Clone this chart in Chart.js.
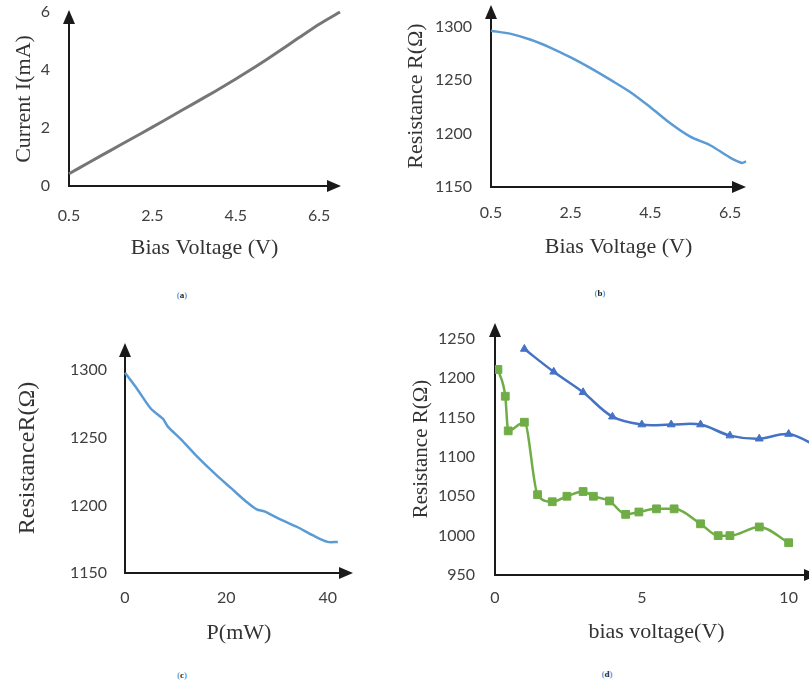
<!DOCTYPE html>
<html><head><meta charset="utf-8">
<script src="https://cdn.jsdelivr.net/npm/chart.js@4"></script>
<style>
html,body{margin:0;padding:0;background:#fff;overflow:hidden;width:809px;height:688px;position:relative}
canvas{position:absolute}
.cap{position:absolute;font:bold 9px "Liberation Serif",serif;color:#222;transform:translate(-50%,-50%);white-space:nowrap}
.cap span{color:#5b9bd5}
</style></head><body>
<canvas id="ca" width="400" height="300" style="left:0;top:0;width:400px;height:300px"></canvas>
<canvas id="cb" width="409" height="300" style="left:400px;top:0;width:409px;height:300px"></canvas>
<canvas id="cc" width="400" height="340" style="left:0;top:320px;width:400px;height:340px"></canvas>
<canvas id="cd" width="430" height="360" style="left:400px;top:300px;width:430px;height:360px"></canvas>
<div class="cap" style="left:182px;top:295px"><span>(</span>a<span>)</span></div>
<div class="cap" style="left:600px;top:293px"><span>(</span>b<span>)</span></div>
<div class="cap" style="left:182px;top:675px"><span>(</span>c<span>)</span></div>
<div class="cap" style="left:607px;top:674px"><span>(</span>d<span>)</span></div>
<script>
// ---- data ----
const aVoltage = [0.5,1,1.5,2,2.5,3,3.5,4,4.5,5,5.5,6,6.5,7];
const aCurrent = [0.42,0.83,1.23,1.63,2.03,2.44,2.85,3.26,3.69,4.14,4.61,5.10,5.58,6.0];
const aXTicks = [0.5,2.5,4.5,6.5];
const aYTicks = [0,2,4,6];

const bVoltage = [0.5,1,1.5,2,2.5,3,3.5,4,4.5,5,5.5,6,6.5,6.8,6.9];
const bResistance = [1296,1293,1287.5,1280,1271,1261,1250,1238.5,1224.5,1209.5,1197,1189,1177.5,1172.5,1174];
const bXTicks = [0.5,2.5,4.5,6.5];
const bYTicks = [1150,1200,1250,1300];

const cPower = [0,2.5,5,7,7.5,8.5,11,14,18,21,24,26,27.5,31,34,37,40,42];
const cResistance = [1298,1285.5,1272,1265.5,1264,1258,1249,1237,1222.5,1212.5,1202.5,1197,1195.5,1189,1184,1178,1173,1173];
const cXTicks = [0,20,40];
const cYTicks = [1150,1200,1250,1300];

const dBlueVoltage = [1,2,3,4,5,6,7,8,9,10,11];
const dBlueResistance = [1237,1208,1182,1151,1141,1141,1141,1127,1123,1129,1113];
const dGreenVoltage = [0.1,0.35,0.45,1.0,1.45,1.95,2.45,3.0,3.35,3.9,4.45,4.9,5.5,6.1,7.0,7.6,8.0,9.0,10.0];
const dGreenResistance = [1211,1177,1133,1144,1052,1043,1050,1056,1050,1044,1027,1030,1034,1034,1015,1000,1000,1011,991];
const dXTicks = [0,5,10];
const dYTicks = [950,1000,1050,1100,1150,1200,1250];

// ---- helpers ----
const pairs = (xs, ys) => xs.map((x, i) => ({x, y: ys[i]}));
const tickFont = {family: 'Lato', size: 16};
const tickColor = '#404040';
const titleColor = '#333333';

const axesPlugin = {
  id: 'axesArrows',
  beforeDatasetsDraw(chart) {
    const {ctx, chartArea: {left, top, right, bottom}} = chart;
    const o = chart.options.plugins.axesArrows || {};
    const ty = top - (o.topExt || 0), rx = right + (o.rightExt || 0);
    ctx.save();
    ctx.strokeStyle = '#1a1a1a'; ctx.fillStyle = '#1a1a1a'; ctx.lineWidth = 2;
    ctx.beginPath();
    ctx.moveTo(left, bottom + 1); ctx.lineTo(left, ty + 10);
    ctx.moveTo(left - 1, bottom); ctx.lineTo(rx - 10, bottom);
    ctx.stroke();
    ctx.beginPath(); ctx.moveTo(left, ty); ctx.lineTo(left - 6, ty + 14); ctx.lineTo(left + 6, ty + 14); ctx.closePath(); ctx.fill();
    ctx.beginPath(); ctx.moveTo(rx, bottom); ctx.lineTo(rx - 14, bottom - 6); ctx.lineTo(rx - 14, bottom + 6); ctx.closePath(); ctx.fill();
    ctx.restore();
  }
};

function scales(o) {
  return {
    x: {
      type: 'linear', min: o.xmin, max: o.xmax,
      grid: {display: false, drawTicks: false}, border: {display: false},
      ticks: {font: tickFont, color: tickColor, padding: o.xtp, maxRotation: 0, autoSkip: false, callback: v => String(v)},
      afterBuildTicks: s => { s.ticks = o.xticks.map(v => ({value: v})); },
      afterFit: s => { s.height = o.xh; s.paddingLeft = 0; s.paddingRight = 0; },
      title: {display: true, text: o.xtitle, color: titleColor,
              font: {family: 'Liberation Serif', size: o.xtsize || 22}, padding: {top: 0, bottom: o.xtpad}}
    },
    y: {
      type: 'linear', min: o.ymin, max: o.ymax,
      grid: {display: false, drawTicks: false}, border: {display: false},
      ticks: {font: tickFont, color: tickColor, padding: o.ytp, autoSkip: false, callback: v => String(v)},
      afterBuildTicks: s => { s.ticks = o.yticks.map(v => ({value: v})); },
      afterFit: s => { s.width = o.yw; s.paddingTop = 0; s.paddingBottom = 0; },
      title: {display: true, text: o.ytitle, color: titleColor,
              font: {family: 'Liberation Serif', size: o.ytsize || 22}, padding: {top: o.ytpad, bottom: 0}}
    }
  };
}

function common(padding, arrows, sc) {
  return {
    responsive: false, animation: false, devicePixelRatio: 1,
    layout: {padding},
    plugins: {legend: {display: false}, tooltip: {enabled: false}, axesArrows: arrows},
    scales: sc
  };
}

// (a)
new Chart(document.getElementById('ca'), {
  type: 'line',
  data: {datasets: [{data: pairs(aVoltage, aCurrent), borderColor: '#767676', borderWidth: 3,
    pointRadius: 0, tension: 0.2, clip: false}]},
  options: common({top: 12, right: 60, left: 0, bottom: 0}, {topExt: 2, rightExt: 1},
    scales({xmin: 0.5, xmax: 7, xticks: aXTicks, xh: 114, xtp: 20, xtitle: 'Bias Voltage (V)', xtpad: 39,
            ymin: 0, ymax: 6, yticks: aYTicks, yw: 69, ytp: 19, ytitle: 'Current I(mA)', ytpad: 11})),
  plugins: [axesPlugin]
});

// (b)
new Chart(document.getElementById('cb'), {
  type: 'line',
  data: {datasets: [{data: pairs(bVoltage, bResistance), borderColor: '#5b9bd5', borderWidth: 2.5,
    pointRadius: 0, tension: 0.3, clip: false}]},
  options: common({top: 5, right: 63, left: 0, bottom: 0}, {topExt: 0, rightExt: 0},
    scales({xmin: 0.5, xmax: 6.9, xticks: bXTicks, xh: 113, xtp: 16, xtitle: 'Bias Voltage (V)', xtpad: 40,
            ymin: 1150, ymax: 1320, yticks: bYTicks, yw: 91, ytp: 19, ytitle: 'Resistance R(Ω)', ytpad: 3})),
  plugins: [axesPlugin]
});

// (c)
new Chart(document.getElementById('cc'), {
  type: 'line',
  data: {datasets: [{data: pairs(cPower, cResistance), borderColor: '#5b9bd5', borderWidth: 2.5,
    pointRadius: 0, tension: 0.3, clip: false}]},
  options: common({top: 23, right: 47, left: 0, bottom: 0}, {topExt: 0, rightExt: 0},
    scales({xmin: 0, xmax: 45, xticks: cXTicks, xh: 87, xtp: 15, xtitle: 'P(mW)', xtpad: 14,
            ymin: 1150, ymax: 1320, yticks: cYTicks, yw: 125, ytp: 18, ytitle: 'ResistanceR(Ω)', ytsize: 24, ytpad: 13})),
  plugins: [axesPlugin]
});

// (d)
new Chart(document.getElementById('cd'), {
  type: 'line',
  data: {datasets: [
    {data: pairs(dBlueVoltage, dBlueResistance), borderColor: '#4472c4', backgroundColor: '#4472c4', borderWidth: 2.5,
     pointStyle: 'triangle', pointRadius: 4.5, pointBorderWidth: 1, tension: 0.35},
    {data: pairs(dGreenVoltage, dGreenResistance), borderColor: '#70ad47', backgroundColor: '#70ad47', borderWidth: 2.5,
     pointStyle: 'rect', pointRadius: 5.5, pointBorderWidth: 1, cubicInterpolationMode: 'monotone'}
  ]},
  options: common({top: 23, right: 12, left: 0, bottom: 0}, {topExt: 0, rightExt: 0},
    scales({xmin: 0, xmax: 11, xticks: dXTicks, xh: 85, xtp: 13, xtitle: 'bias voltage(V)', xtpad: 15,
            ymin: 950, ymax: 1270, yticks: dYTicks, yw: 95, ytp: 20, ytitle: 'Resistance R(Ω)', ytsize: 21, ytpad: 9})),
  plugins: [axesPlugin]
});
</script>
</body></html>
